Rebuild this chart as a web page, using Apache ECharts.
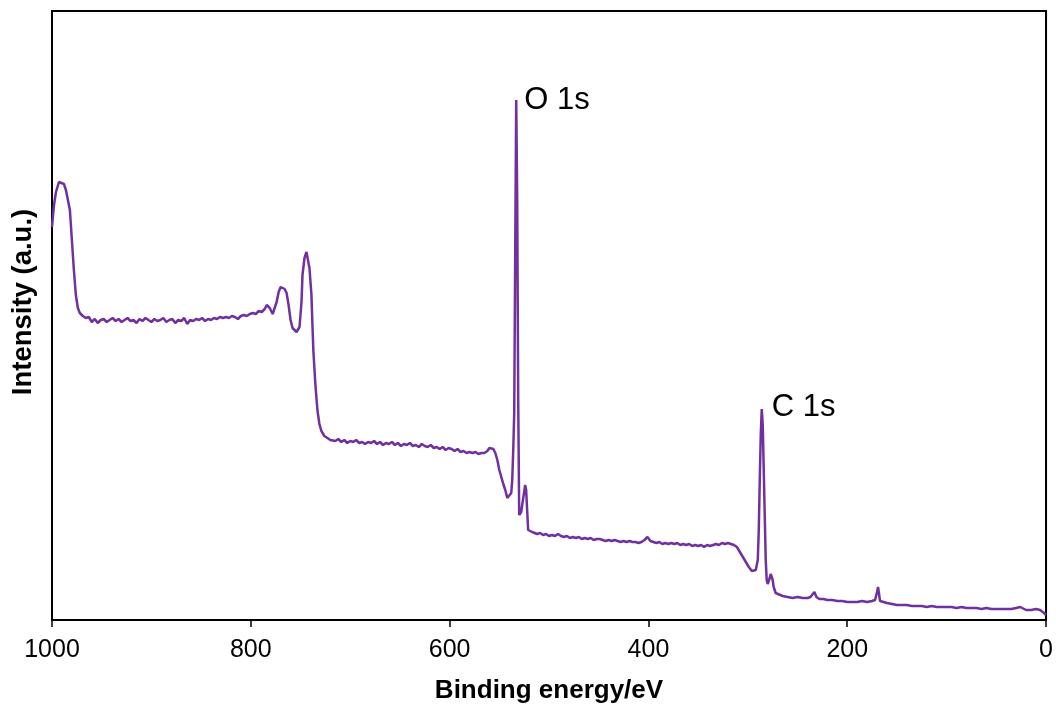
<!DOCTYPE html>
<html>
<head>
<meta charset="utf-8">
<title>XPS survey spectrum</title>
<script src="https://cdn.jsdelivr.net/npm/echarts@6/dist/echarts.min.js"></script>
<style>
  html, body { margin: 0; padding: 0; background: #fff; }
  #chart { width: 1056px; height: 707px; }
</style>
</head>
<body>
<div id="chart"></div>
<script>
// Survey scan: binding energy (eV) and intensity (arbitrary units)
const energy = [
  1000, 998, 996, 993, 991, 988, 986, 984, 982, 980, 978, 976, 974, 972, 969, 966, 963, 960, 957, 954, 951,
  948, 945, 942, 939, 936, 933, 930, 927, 924, 921, 918, 915, 912, 909, 906, 903, 900, 897, 894, 891, 888,
  885, 882, 879, 876, 873, 870, 867, 864, 861, 858, 855, 852, 849, 846, 843, 840, 837, 834, 831, 828, 825,
  822, 819, 816, 813, 810, 807, 804, 801, 798, 795, 792, 789, 786, 784, 781, 778, 776, 774, 772, 770, 768,
  766, 764, 762, 760, 758, 756, 754, 752, 751, 749, 748, 746, 744, 743, 741, 739, 738, 737, 735, 733, 731,
  729, 726, 723, 720, 718, 715, 712, 709, 706, 703, 700, 697, 694, 691, 688, 685, 682, 679, 676, 673, 670,
  667, 664, 661, 658, 655, 652, 649, 646, 643, 640, 637, 634, 631, 628, 625, 622, 619, 616, 613, 610, 607,
  604, 601, 598, 595, 592, 589, 586, 583, 580, 577, 574, 571, 568, 565, 562, 560, 558, 556, 554, 552, 550,
  548, 546, 544, 542, 540, 538, 537, 536, 535, 534, 533, 532, 531, 530, 529, 528, 527, 525, 524, 523, 522,
  521, 519, 517, 515, 512, 509, 506, 503, 500, 497, 494, 491, 488, 485, 482, 479, 476, 473, 470, 467, 464,
  461, 458, 455, 452, 449, 446, 443, 440, 437, 434, 431, 428, 425, 422, 419, 416, 413, 410, 407, 404, 401,
  398, 395, 392, 389, 386, 383, 380, 377, 374, 371, 368, 365, 362, 359, 356, 353, 350, 347, 344, 341, 338,
  335, 332, 329, 326, 323, 320, 317, 314, 311, 308, 305, 302, 299, 296, 294, 292, 290, 289, 288, 287, 286,
  285, 284, 283, 282, 281, 280, 279, 278, 277, 276, 275, 274, 272, 270, 265, 260, 255, 250, 245, 240, 237,
  235, 233, 231, 228, 224, 220, 215, 210, 205, 200, 195, 190, 185, 180, 175, 172, 170, 169, 168, 167, 165,
  160, 155, 150, 145, 140, 135, 130, 125, 120, 115, 110, 105, 100, 95, 90, 85, 80, 75, 70, 65, 60, 55, 50,
  45, 40, 35, 30, 28, 26, 24, 20, 15, 10, 6, 4, 2, 0
];
const intensity = [
  393, 415, 428, 438, 440, 436, 430, 420, 410, 380, 350, 325, 312, 307, 304, 302, 303, 298, 301, 297, 300,
  301, 298, 300, 302, 299, 301, 298, 300, 302, 299, 300, 297, 301, 299, 302, 300, 298, 301, 299, 300, 302,
  298, 300, 301, 297, 300, 299, 302, 296, 300, 299, 301, 300, 302, 299, 301, 300, 302, 301, 303, 302, 303,
  302, 304, 303, 301, 304, 305, 304, 306, 307, 306, 309, 308, 311, 315, 312, 306, 312, 318, 328, 333, 334,
  331, 327, 315, 300, 292, 290, 288, 290, 293, 318, 345, 362, 368, 367, 352, 325, 295, 268, 235, 210, 196,
  189, 184, 182, 180, 181, 179, 181, 178, 180, 177, 179, 178, 180, 177, 178, 176, 178, 177, 179, 176, 178,
  175, 177, 176, 178, 175, 177, 174, 176, 175, 177, 174, 175, 173, 176, 174, 173, 175, 172, 173, 171, 173,
  170, 172, 171, 169, 171, 168, 169, 167, 168, 167, 168, 166, 167, 167, 169, 172, 173, 171, 167, 160, 150,
  143, 136, 130, 122, 123, 127, 140, 170, 207, 370, 520, 420, 220, 105, 103, 108, 115, 128, 135, 130, 110,
  90, 88, 88, 87, 86, 87, 85, 86, 84, 85, 84, 86, 84, 83, 84, 82, 83, 82, 83, 81, 82,
  81, 82, 80, 81, 81, 80, 79, 80, 79, 80, 79, 78, 79, 78, 79, 78, 78, 77, 78, 80, 83,
  79, 78, 77, 78, 76, 77, 76, 77, 76, 77, 75, 76, 75, 76, 74, 75, 74, 75, 73, 75, 74,
  75, 76, 75, 77, 76, 77, 76, 75, 73, 68, 63, 58, 53, 49, 48, 50, 60, 90, 140, 185, 211,
  195, 150, 105, 60, 40, 36, 38, 42, 46, 47, 40, 33, 27, 25, 24, 23, 22, 23, 22, 22, 23,
  24, 28, 23, 21, 21, 20, 20, 19, 19, 18, 18, 18, 19, 18, 19, 20, 28, 33, 26, 19, 17,
  17, 16, 15, 15, 15, 14, 14, 14, 13, 14, 13, 13, 13, 13, 12, 13, 12, 12, 12, 11, 12, 11, 11,
  11, 11, 11, 12, 14, 13, 11, 10, 10, 11, 10, 9, 7, 5
];

// Peak assignments: binding energy, intensity at the peak top, label
const peakEnergy = [533, 286];
const peakIntensity = [520, 211];
const peakNames = ['O 1s', 'C 1s'];

const xTicks = [0, 200, 400, 600, 800, 1000];

const FONT = '"Liberation Sans", Arial, sans-serif';
const LINE_COLOR = '#7030A0';

const chart = echarts.init(document.getElementById('chart'), null, { renderer: 'canvas' });

const spectrum = energy.map((e, i) => [e, intensity[i]]);

const peakMarks = peakEnergy.map((e, i) => ({
  coord: [e, peakIntensity[i]],
  name: peakNames[i],
  label: {
    show: true,
    formatter: peakNames[i],
    position: 'right',
    distance: i === 0 ? 8 : 10,
    offset: [0, i === 0 ? 0 : -2]
  }
}));

chart.setOption({
  animation: false,
  backgroundColor: '#fff',
  grid: {
    left: 52, right: 9, top: 11, bottom: 87,
    show: true,
    borderColor: '#000',
    borderWidth: 2,
    backgroundColor: 'transparent'
  },
  xAxis: {
    type: 'value',
    inverse: true,
    min: xTicks[0],
    max: xTicks[xTicks.length - 1],
    interval: 200,
    axisLine: { show: true, lineStyle: { color: '#000', width: 2 } },
    axisTick: { show: true, inside: false, length: 7, lineStyle: { color: '#000', width: 1.5 } },
    axisLabel: {
      margin: 18,
      color: '#000',
      fontSize: 25,
      fontFamily: FONT,
      formatter: v => String(v)
    },
    splitLine: { show: false }
  },
  yAxis: {
    type: 'value',
    min: 0,
    max: 609,
    axisLine: { show: true, lineStyle: { color: '#000', width: 2 } },
    axisTick: { show: false },
    axisLabel: { show: false },
    splitLine: { show: false }
  },
  series: [{
    type: 'line',
    data: spectrum,
    showSymbol: false,
    symbol: 'none',
    smooth: false,
    lineStyle: { color: LINE_COLOR, width: 2.5 },
    markPoint: {
      symbol: 'circle',
      symbolSize: 0,
      itemStyle: { color: 'transparent' },
      label: {
        color: '#000',
        fontSize: 31,
        fontFamily: FONT
      },
      data: peakMarks
    }
  }],
  graphic: [
    {
      type: 'text',
      x: 549,
      y: 691,
      style: {
        text: 'Binding energy/eV',
        fontSize: 26,
        fontWeight: 'bold',
        fontFamily: FONT,
        fill: '#000',
        textAlign: 'center',
        textVerticalAlign: 'middle'
      }
    },
    {
      type: 'text',
      x: 23,
      y: 302,
      rotation: Math.PI / 2,
      style: {
        text: 'Intensity (a.u.)',
        fontSize: 27.5,
        fontWeight: 'bold',
        fontFamily: FONT,
        fill: '#000',
        textAlign: 'center',
        textVerticalAlign: 'middle'
      }
    }
  ]
});
</script>
</body>
</html>
